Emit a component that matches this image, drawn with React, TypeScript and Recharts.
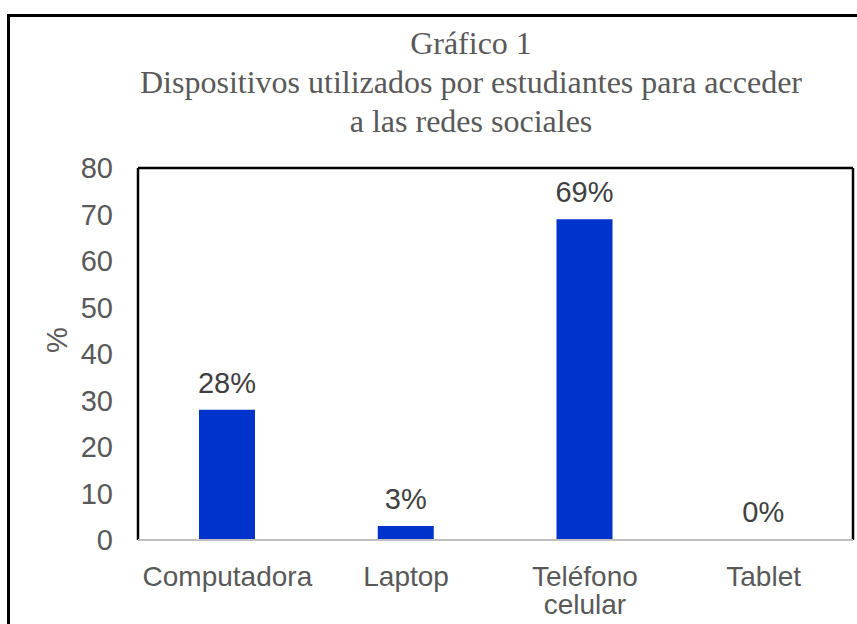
import { BarChart, Bar, XAxis, YAxis, LabelList, CartesianGrid, Cell } from "recharts";

const titleLines = [
  "Gráfico 1",
  "Dispositivos utilizados por estudiantes para acceder",
  "a las redes sociales",
];
const devices = ["Computadora", "Laptop", "Teléfono celular", "Tablet"];
const percentages = [28, 3, 69, 0];
const yTicks = [0, 10, 20, 30, 40, 50, 60, 70, 80];

const chartData = devices.map((name, i) => ({ name, value: percentages[i] }));

const SANS = "'Liberation Sans', Arial, sans-serif";
const SERIF = "'Liberation Serif', 'Times New Roman', serif";
const GREY = "#595959";
const BLUE = "#0033CC";

// category labels wrap on spaces, like the original
function CategoryTick({ x, y, payload }: any) {
  const lines = String(payload.value).split(" ");
  return (
    <text x={x} y={y} textAnchor="middle" fill={GREY} fontSize={28} fontFamily={SANS}>
      {lines.map((line, i) => (
        <tspan key={i} x={x} dy={i === 0 ? 38 : 28}>
          {line}
        </tspan>
      ))}
    </text>
  );
}

function PercentLabel({ viewBox }: any) {
  const cx = viewBox.x + 57;
  const cy = viewBox.y + viewBox.height / 2 - 14;
  return (
    <text
      x={cx}
      y={cy}
      transform={`rotate(-90, ${cx}, ${cy})`}
      textAnchor="middle"
      dominantBaseline="central"
      fill={GREY}
      fontSize={29}
      fontFamily={SANS}
    >
      %
    </text>
  );
}

export default function App() {
  return (
    <div
      style={{
        position: "fixed",
        left: 0,
        top: 0,
        width: 857,
        height: 624,
        overflow: "hidden",
        background: "#fff",
      }}
    >
      <div
        style={{
          position: "absolute",
          left: 7,
          top: 14,
          width: 1000,
          height: 1000,
          border: "3px solid #000",
        }}
      />
      <div
        style={{
          position: "absolute",
          left: 471,
          top: 24,
          transform: "translateX(-50%)",
          whiteSpace: "nowrap",
          textAlign: "center",
          fontFamily: SERIF,
          fontSize: 32,
          lineHeight: "39px",
          color: GREY,
        }}
      >
        {titleLines.map((t) => (
          <div key={t}>{t}</div>
        ))}
      </div>
      <div style={{ position: "absolute", left: 0, top: 0 }}>
        <BarChart
          width={857}
          height={624}
          data={chartData}
          margin={{ top: 168, right: 4, bottom: 0, left: 0 }}
        >
          {/* plot area frame: top edge + left/right edges */}
          <CartesianGrid
            stroke="#000"
            strokeWidth={2.5}
            horizontalCoordinatesGenerator={({ offset }: any) => [offset.top]}
            verticalCoordinatesGenerator={({ offset }: any) => [
              offset.left,
              offset.left + offset.width,
            ]}
          />
          <XAxis
            dataKey="name"
            height={84}
            axisLine={{ stroke: "#BFBFBF", strokeWidth: 2 }}
            tickLine={false}
            tickSize={0}
            tickMargin={8}
            tick={<CategoryTick />}
            interval={0}
          />
          <YAxis
            width={138}
            domain={[0, 80]}
            ticks={yTicks}
            interval={0}
            axisLine={false}
            tickLine={false}
            tickSize={0}
            tickMargin={25}
            tick={{ fill: GREY, fontSize: 29, fontFamily: SANS }}
            label={<PercentLabel />}
          />
          <Bar
            dataKey="value"
            fill={BLUE}
            barSize={56}
            minPointSize={1}
            isAnimationActive={false}
          >
            {chartData.map((d) => (
              <Cell key={d.name} fill={d.value === 0 ? "transparent" : BLUE} />
            ))}
            <LabelList
              dataKey="value"
              position="top"
              offset={17}
              formatter={(v: any) => `${v}%`}
              fill="#404040"
              fontSize={29}
              fontFamily={SANS}
            />
          </Bar>
        </BarChart>
      </div>
    </div>
  );
}
